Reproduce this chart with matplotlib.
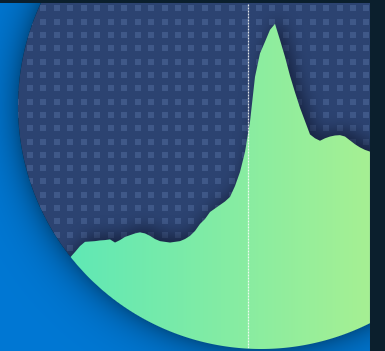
import numpy as np
import matplotlib
matplotlib.use("Agg")
import matplotlib.pyplot as plt
from matplotlib.patches import Circle
from matplotlib.path import Path

# daily values on a 0-100 scale
days = np.arange(64)
values = [25.4, 25.9, 26.6, 28.2, 29.9, 31.1, 31.2, 31.3, 31.5, 31.6,
          31.8, 30.9, 31.6, 32.5, 33.0, 33.5, 33.8, 33.5, 32.8, 31.9,
          31.3, 31.1, 30.9, 31.1, 31.3, 31.9, 32.8, 34.2, 36.2, 37.6,
          39.6, 40.6, 41.6, 42.6, 43.9, 47.0, 51.0, 56.7, 65.3, 78.1,
          84.8, 88.1, 91.5, 93.2, 88.6, 83.8, 78.4, 73.7, 69.3, 65.5,
          61.7, 60.6, 59.9, 60.6, 61.1, 61.4, 61.5, 61.1, 60.0, 58.9,
          58.0, 57.3, 56.8, 56.4]
marker_day = 37.6

W, H = 385, 351
PW, TOP = 370, 3
cx, cy, r = 261, 106, 243

fig = plt.figure(figsize=(W / 100, H / 100), dpi=100, facecolor="#0b1f2d")
rect = [0, 0, PW / W, (H - TOP) / H]

# background layer in pixel coords
ax_bg = fig.add_axes(rect)
ax_bg.set_xlim(0, PW)
ax_bg.set_ylim(H, TOP)
ax_bg.axis("off")

# data layer
ax = fig.add_axes(rect, zorder=1)
ax.set_xlim(-12, 62)
ax.set_ylim(0, (H - TOP) / 3.51)
ax.axis("off")

# top layer (outside of circle)
ax_top = fig.add_axes(rect, zorder=2)
ax_top.set_xlim(0, PW)
ax_top.set_ylim(H, TOP)
ax_top.axis("off")

circle = Circle((cx, cy), r, fc="#2c4371", ec="none")
ax_bg.add_patch(circle)

# dot pattern
gx = 43.4 + 13.46 * np.arange(-4, 25)
gy = 8.3 + 13.32 * np.arange(0, 27)
GX, GY = np.meshgrid(gx, gy)
dots = ax_bg.scatter(GX.ravel(), GY.ravel(), marker="s", s=22,
                     c="#3f5888", linewidths=0, zorder=2)
dots.set_clip_path(circle)

# area (used as clip path for the gradient)
fb = ax.fill_between(days, values, 0, color="none", lw=0)
area_path = fb.get_paths()[0]

# blurred shadow of the area
disp = ax.transData.transform(area_path.vertices)
pix = np.column_stack([disp[:, 0], H - disp[:, 1]])
xx, yy = np.meshgrid(np.arange(PW) + 0.5, np.arange(TOP, H) + 0.5)
pts = np.column_stack([xx.ravel(), yy.ravel()])
shift = pix + np.array([5, -6])
mask = Path(shift).contains_points(pts).reshape(xx.shape).astype(float)
sig = 8.0
kx = np.arange(-25, 26)
k = np.exp(-kx ** 2 / (2 * sig ** 2))
k /= k.sum()
pad = 25
m = np.pad(mask, pad, mode="edge")
m = np.apply_along_axis(lambda a: np.convolve(a, k, mode="same"), 0, m)
m = np.apply_along_axis(lambda a: np.convolve(a, k, mode="same"), 1, m)
m = m[pad:-pad, pad:-pad]
shadow = np.zeros(m.shape + (4,))
shadow[..., 0:3] = np.array([0.04, 0.06, 0.14])
shadow[..., 3] = 0.6 * m
sh = ax_bg.imshow(shadow, extent=(0, PW, H, TOP), origin="upper",
                  aspect="auto", zorder=3, interpolation="bilinear")
sh.set_clip_path(circle)

# gradient fill of the area
c0 = np.array([0x60, 0xe8, 0xb5]) / 255
c1 = np.array([0xa6, 0xf0, 0x93]) / 255
px = np.arange(PW) + 0.5
t = ((px - 72) / (PW - 72))[:, None]
grad = np.clip(c0 + t * (c1 - c0), 0, 1)[None, :, :]
im = ax.imshow(grad, extent=(-12, 62, 0, (H - TOP) / 3.51),
               aspect="auto", interpolation="bilinear", zorder=2)
im.set_clip_path(area_path, ax.transData)
ax.set_xlim(-12, 62)
ax.set_ylim(0, (H - TOP) / 3.51)

# marker line
vl = ax.axvline(marker_day, color="white", lw=0.9, ls=(0, (1.6, 0.8)),
                alpha=0.85, zorder=3)
vl.set_clip_path(circle)

# outside-of-circle blue with soft shadow
d = np.hypot(xx - cx, yy - cy) - r
base = np.array([0x00, 0x78, 0xd4]) / 255
fac = 1 - 0.33 * np.exp(-np.clip(d, 0, None) / 16)
outer = np.zeros(d.shape + (4,))
outer[..., 0:3] = base * fac[..., None]
outer[..., 3] = np.clip(d + 0.5, 0, 1)
ax_top.imshow(outer, extent=(0, PW, H, TOP), origin="upper",
              aspect="auto", interpolation="nearest")
ax_top.set_xlim(0, PW)
ax_top.set_ylim(H, TOP)
ax_top.axvline(PW - 0.5, color="#1d5590", lw=0.8)

fig.savefig("out.png", dpi=100, facecolor=fig.get_facecolor())
